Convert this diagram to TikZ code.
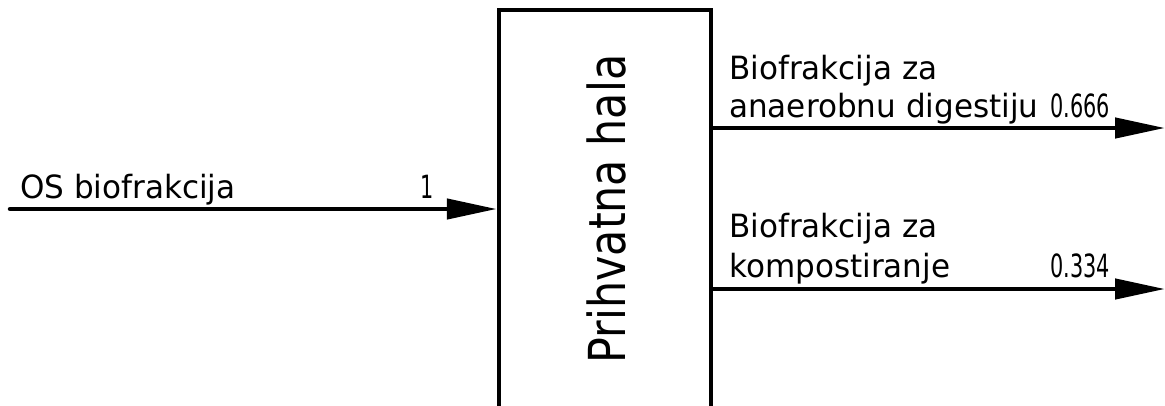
\documentclass[tikz,border=0pt]{standalone}
\usepackage{fontspec}
\newfontfamily\isofont[FakeStretch=0.97]{DejaVu Sans}
\newfontfamily\numfont[FakeStretch=0.65]{DejaVu Sans}
\newfontfamily\halafont[FakeStretch=0.84]{DejaVu Sans}
\usetikzlibrary{arrows.meta,positioning}

\begin{document}
\begin{tikzpicture}[x=1pt,y=-1pt,line width=4.5pt,line cap=round,>={Triangle[length=50pt,width=20pt]}]
    \tikzset{lbl/.style={font=\isofont\fontsize{32}{38}\selectfont,inner sep=0pt,anchor=base west}}
    \tikzset{num/.style={lbl,font=\numfont\fontsize{32}{38}\selectfont,anchor=base east}}
    \useasboundingbox (0,0) rectangle (1165,405);
    \clip (0,0) rectangle (1165,405);
    % prihvatna hala
    \node[draw,line cap=butt,minimum width=212pt,minimum height=398pt,inner sep=0pt] (hala) at (605,209) {};
    \node[rotate=90,inner sep=0pt,font=\halafont\fontsize{51}{60}\selectfont] (halaLbl) at ([xshift=1.5pt]hala.center) {Prihvatna hala};
    % ulaz
    \coordinate (os) at (10,209);
    \draw[->] (os) -- (hala.west |- os);
    \node[lbl] (osLbl) at (18,198) {OS biofrakcija};
    \node[num] (osNum) at (436,198) {1};
    % izlazi
    \coordinate (ad) at (1165,128);
    \coordinate (komp) at (1165,289);
    \draw[->] (hala.east |- ad) -- (ad);
    \draw[->] (hala.east |- komp) -- (komp);
    \node[lbl] (adLbl) at (727,79) {Biofrakcija za};
    \node[lbl] (adLblb) at (727,117) {anaerobnu digestiju};
    \node[num] (adNum) at (1112,117) {0.666};
    \node[lbl] (kompLbl) at (727,237) {Biofrakcija za};
    \node[lbl] (kompLblb) at (727,277) {kompostiranje};
    \node[num] (kompNum) at (1112,277) {0.334};
\end{tikzpicture}
\end{document}
